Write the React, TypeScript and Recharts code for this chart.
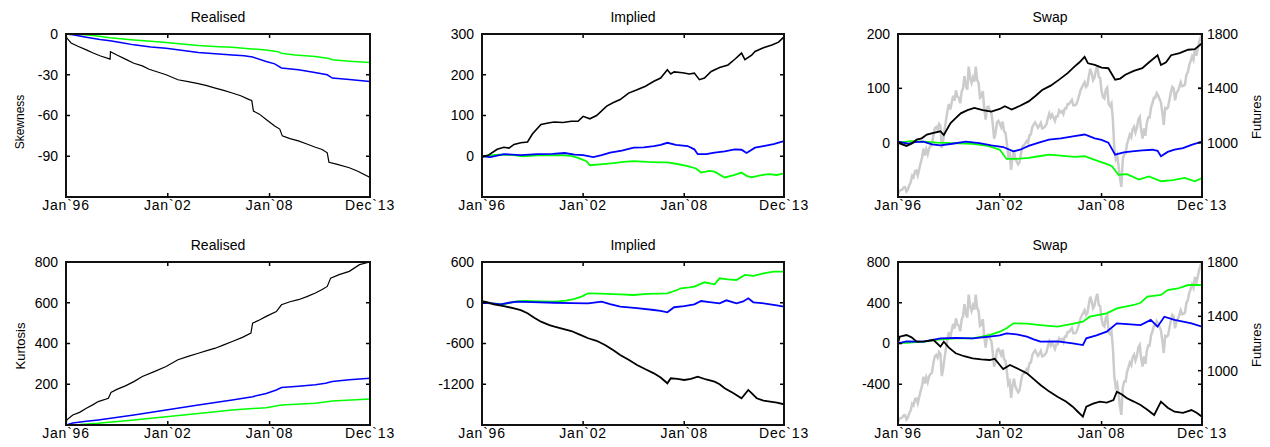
import React from 'react';
import { LineChart, Line, XAxis, YAxis, ReferenceLine } from 'recharts';

type P = [number, number];

const X_START = 1996;
const X_END = 2013.92;
const xTicks = [1996, 2002, 2008, 2013.92];
const xTickLabels = ['Jan`96', 'Jan`02', 'Jan`08', 'Dec`13'];

const futDomain: [number, number] = [600, 1800];
const futTicks = [1000, 1400, 1800];

// ---------- Skewness: Realised ----------
const rsBlack: P[] = [[1996,0],[1996.05,-3],[1996.3,-6.6],[1996.7,-9],[1997.2,-11.7],[1997.6,-14],[1998.0,-16],[1998.6,-18.5],[1998.62,-13],[1999.0,-15.5],[1999.5,-18.5],[2000,-21.5],[2000.5,-23.5],[2000.9,-26],[2001.4,-28],[2001.9,-30],[2002.6,-33.7],[2003.2,-35],[2003.8,-36.5],[2004.3,-38],[2004.8,-39.8],[2005.3,-41.5],[2005.8,-43.4],[2006.3,-45.5],[2006.8,-48.3],[2006.95,-49],[2007.05,-56.8],[2007.4,-59],[2007.8,-62.9],[2008.3,-67.8],[2008.6,-70],[2008.75,-75],[2009.2,-77],[2009.7,-78.7],[2010.2,-81],[2010.7,-83.4],[2011.1,-85],[2011.4,-87.5],[2011.5,-94.4],[2012.0,-96],[2012.7,-98.5],[2013.2,-101],[2013.92,-105.6]];
const rsBlue: P[] = [[1996,0],[1996.4,-0.5],[1996.8,-1.5],[1997.2,-2.4],[1998,-4],[1998.6,-4.9],[1999.3,-6.5],[2000,-8],[2001,-9.5],[2001.9,-10.5],[2002.8,-12],[2003.8,-13.6],[2004.8,-14.5],[2005.8,-15.4],[2006.5,-16],[2007,-17],[2007.8,-20.2],[2008.3,-22],[2008.7,-25],[2009.7,-26.3],[2010.5,-28],[2011.4,-30],[2011.7,-32.4],[2012.7,-33.5],[2013.92,-35]];
const rsGreen: P[] = [[1996,0],[1996.5,0],[1997.5,-1],[1998.6,-2.7],[2000,-4.4],[2001,-5.4],[2001.9,-6.3],[2003,-7.5],[2003.8,-8.5],[2005,-9.3],[2005.8,-9.8],[2006.8,-10.8],[2007.8,-11.7],[2008.5,-13],[2008.7,-14.1],[2009.5,-15.5],[2010.7,-16.6],[2011.5,-18],[2011.7,-19],[2012.7,-20],[2013.92,-21]];

// ---------- Skewness: Implied ----------
const isBlack: P[] = [[1996,-2],[1996.4,3],[1996.9,17],[1997.3,22],[1997.6,20],[1997.9,29],[1998.3,33],[1998.7,35],[1999.0,55],[1999.5,78],[2000.0,82],[2000.3,84],[2000.8,83],[2001.3,86],[2001.7,86],[2002.0,98],[2002.4,92],[2002.8,100],[2003.4,123],[2003.8,132],[2004.2,139],[2004.7,155],[2005.2,163],[2005.7,172],[2006.2,184],[2006.6,192],[2007.0,212],[2007.2,202],[2007.4,207],[2007.9,205],[2008.3,202],[2008.6,204],[2008.9,188],[2009.2,192],[2009.6,208],[2010.1,218],[2010.6,224],[2011.0,238],[2011.4,253],[2011.6,237],[2012.0,248],[2012.2,257],[2012.7,266],[2013.2,273],[2013.6,280],[2013.92,293]];
const isBlue: P[] = [[1996,0],[1996.5,-2],[1997.3,5],[1998.3,3],[1999.3,5],[2000.2,6],[2000.9,8],[2001.5,4],[2002.0,3],[2002.6,-2],[2003.1,3],[2003.6,9],[2004.3,14],[2005.0,21],[2005.6,22],[2006.2,25],[2006.6,28],[2007.0,33],[2007.5,28],[2008.2,25],[2008.6,17],[2008.8,5],[2009.3,5],[2009.8,9],[2010.4,12],[2011.0,17],[2011.4,16],[2011.7,8],[2012.2,21],[2012.7,25],[2013.3,30],[2013.92,37]];
const isGreen: P[] = [[1996,0],[1997.0,4],[1997.9,3],[1998.4,0],[1999.3,2],[2000.7,3],[2001.3,1],[2001.7,-4],[2002.2,-12],[2002.4,-22],[2003.0,-20],[2003.8,-17],[2004.4,-14],[2005.0,-12],[2005.8,-14],[2006.5,-15],[2007.0,-15],[2007.6,-19],[2008.2,-24],[2008.7,-30],[2009.0,-40],[2009.5,-36],[2009.8,-38],[2010.4,-52],[2010.9,-47],[2011.4,-40],[2011.7,-48],[2012.0,-52],[2012.5,-47],[2013.0,-44],[2013.5,-46],[2013.92,-42]];

// ---------- Skewness: Swap ----------
const ssBlack: P[] = [[1996,0],[1996.5,-6],[1996.8,-2],[1997.1,5.5],[1997.4,8],[1997.7,15],[1998.1,18],[1998.5,21],[1998.7,14],[1999.1,36],[1999.4,45],[1999.7,54],[2000.1,60],[2000.5,64],[2001.0,60],[2001.5,57],[2002.0,62],[2002.3,67],[2002.7,61],[2003.2,68],[2003.7,76],[2004.1,86],[2004.5,97],[2005.0,105],[2005.5,116],[2006.0,128],[2006.4,140],[2006.7,148],[2007.0,158],[2007.2,146],[2007.6,143],[2008.0,138],[2008.4,137],[2008.8,116],[2009.1,118],[2009.4,125],[2009.9,132],[2010.4,137],[2010.8,148],[2011.3,161],[2011.5,143],[2011.8,148],[2012.1,161],[2012.6,165],[2013.1,171],[2013.5,172],[2013.92,183]];
const ssBlue: P[] = [[1996,2],[1996.6,-2],[1997.0,1],[1997.5,2],[1998.0,-3],[1998.5,-5],[1999.2,-2],[2000.0,2],[2000.8,-1],[2001.5,-5],[2002.2,-8],[2002.8,-16],[2003.2,-13],[2003.7,-6],[2004.3,0],[2004.9,5.5],[2005.6,8],[2006.4,12],[2007.0,15],[2007.6,8],[2008.0,5],[2008.4,0],[2008.8,-22],[2009.3,-18],[2009.8,-16],[2010.4,-14],[2011.0,-13],[2011.3,-15],[2011.5,-25],[2011.9,-17],[2012.3,-13],[2012.8,-10],[2013.3,-4],[2013.92,2]];
const ssGreen: P[] = [[1996,0],[1996.8,3],[1997.5,2],[1998.3,0],[1999.2,-1],[2000.4,-2],[2001.3,-6],[2002.0,-13],[2002.4,-30],[2003.0,-30],[2003.7,-28],[2004.3,-25],[2004.9,-22],[2005.6,-24],[2006.4,-26],[2007.0,-25],[2007.8,-34],[2008.2,-38],[2008.6,-43],[2009.0,-59],[2009.5,-58],[2010.2,-68],[2010.8,-62],[2011.5,-71],[2012.2,-69],[2012.9,-65],[2013.5,-71],[2013.92,-65]];

// ---------- Kurtosis: Realised ----------
const rkBlack: P[] = [[1996,0],[1996.05,25],[1996.4,49],[1996.8,62],[1997.2,82],[1997.6,100],[1997.9,115],[1998.5,131],[1998.65,160],[1999.0,175],[1999.5,192],[2000.0,213],[2000.5,238],[2001.2,262],[2001.9,287],[2002.6,320],[2003.2,337],[2003.8,352],[2004.3,365],[2004.8,377],[2005.3,393],[2005.8,410],[2006.4,430],[2006.9,451],[2007.0,500],[2007.4,515],[2007.8,533],[2008.4,557],[2008.7,590],[2009.2,605],[2009.7,615],[2010.2,630],[2010.7,648],[2011.1,665],[2011.4,680],[2011.6,721],[2012.1,738],[2012.7,754],[2013.3,787],[2013.92,800]];
const rkBlue: P[] = [[1996,0],[1996.4,10],[1997.2,18],[1997.9,25],[2000,49],[2001.9,74],[2003.8,98],[2005.8,123],[2007,139],[2007.8,155],[2008.4,172],[2008.7,184],[2009.7,190],[2010.7,197],[2011.3,205],[2011.7,213],[2012.7,222],[2013.92,229]];
const rkGreen: P[] = [[1996,0],[1996.8,2],[1997.9,8],[2000,25],[2001.9,41],[2003.8,57],[2005.8,74],[2007.8,85],[2008.7,98],[2010.7,107],[2011.7,118],[2013.92,128]];

// ---------- Kurtosis: Implied ----------
const ikBlack: P[] = [[1996,25],[1996.3,10],[1996.7,-23],[1997.3,-50],[1997.9,-82],[1998.3,-110],[1998.7,-155],[1999.1,-220],[1999.5,-279],[2000.0,-330],[2000.3,-352],[2000.8,-385],[2001.3,-416],[2001.8,-470],[2002.3,-523],[2002.8,-560],[2003.3,-622],[2003.8,-700],[2004.2,-769],[2004.7,-840],[2005.2,-916],[2005.7,-980],[2006.2,-1039],[2006.6,-1100],[2007.0,-1186],[2007.2,-1112],[2007.6,-1120],[2008.0,-1137],[2008.4,-1120],[2008.8,-1088],[2009.3,-1130],[2009.8,-1162],[2010.1,-1200],[2010.4,-1259],[2010.9,-1330],[2011.4,-1406],[2011.8,-1284],[2012.0,-1330],[2012.3,-1406],[2012.7,-1440],[2013.1,-1456],[2013.5,-1470],[2013.92,-1495]];
const ikBlue: P[] = [[1996,0],[1996.6,-10],[1997.1,-23],[1997.6,0],[1998.1,16],[1999.0,8],[2000.3,0],[2001.3,-5],[2002.3,-8],[2003.1,16],[2003.6,-20],[2004.2,-58],[2005.2,-80],[2006.2,-107],[2006.6,-120],[2007.0,-141],[2007.4,-66],[2008.0,-50],[2008.6,-23],[2009.0,26],[2009.5,10],[2010.1,-8],[2010.5,36],[2011.1,-8],[2011.5,20],[2011.8,66],[2012.1,7],[2012.6,-5],[2013.1,-23],[2013.5,-40],[2013.92,-58]];
const ikGreen: P[] = [[1996,0],[1996.6,-10],[1997.3,-23],[1997.9,15],[1998.5,26],[1999.5,20],[2000.3,16],[2001.0,30],[2001.5,56],[2001.9,90],[2002.3,139],[2003.0,135],[2004.2,122],[2005.0,114],[2005.8,130],[2006.5,135],[2007.0,139],[2007.5,180],[2007.8,213],[2008.3,225],[2008.6,237],[2009.2,301],[2009.8,272],[2010.1,360],[2010.6,345],[2011.1,335],[2011.6,409],[2012.1,397],[2012.7,433],[2013.3,458],[2013.92,458]];

// ---------- Kurtosis: Swap ----------
const skBlack: P[] = [[1996,2],[1996.1,67],[1996.5,83],[1996.8,60],[1997.1,18],[1997.6,20],[1998.1,34],[1998.5,-31],[1998.7,18],[1999.0,-40],[1999.4,-96],[1999.9,-125],[2000.4,-145],[2000.9,-155],[2001.4,-162],[2001.7,-150],[2002.0,-211],[2002.2,-250],[2002.6,-211],[2003.1,-250],[2003.6,-293],[2004.0,-350],[2004.4,-407],[2004.9,-470],[2005.4,-522],[2005.9,-570],[2006.3,-620],[2006.6,-670],[2006.9,-718],[2007.1,-620],[2007.5,-590],[2007.9,-571],[2008.3,-580],[2008.7,-555],[2008.9,-473],[2009.2,-500],[2009.5,-538],[2009.9,-570],[2010.3,-604],[2010.7,-650],[2011.1,-702],[2011.5,-571],[2011.9,-630],[2012.3,-669],[2012.8,-680],[2013.3,-653],[2013.6,-680],[2013.92,-718]];
const skBlue: P[] = [[1996,2],[1996.5,20],[1997.5,18],[1998.5,51],[1999.4,55],[2000.4,51],[2001.4,67],[2002.0,80],[2002.4,100],[2003.0,90],[2003.6,67],[2004.0,40],[2004.4,18],[2005.4,20],[2006.3,2],[2006.9,-15],[2007.1,51],[2007.7,80],[2008.3,116],[2008.9,198],[2009.5,190],[2010.3,181],[2010.9,231],[2011.3,165],[2011.7,263],[2012.3,231],[2012.8,215],[2013.3,198],[2013.92,165]];
const skGreen: P[] = [[1996,2],[1997.5,18],[1998.5,40],[1999.4,51],[2000.4,51],[2001.4,83],[2002.0,116],[2002.4,149],[2002.8,198],[2003.6,195],[2004.4,181],[2005.4,165],[2006.2,190],[2006.9,214],[2007.3,263],[2008.3,296],[2008.9,345],[2009.9,378],[2010.3,400],[2010.7,460],[2011.5,476],[2011.9,525],[2012.5,540],[2013.1,574],[2013.92,574]];

// ---------- Futures (monthly, Jan 1996 .. Dec 2013) ----------
const futuresMonthly: number[] = [
  620, 645, 650, 655, 670, 672, 640, 655, 688, 708, 757, 745,
  790, 795, 760, 805, 850, 888, 955, 905, 950, 915, 958, 975,
  985, 1052, 1105, 1115, 1095, 1138, 1125, 960, 1020, 1100, 1168, 1235,
  1285, 1245, 1295, 1345, 1310, 1385, 1340, 1330, 1290, 1375, 1400, 1490,
  1420, 1390, 1560, 1480, 1440, 1480, 1450, 1560, 1460, 1440, 1330, 1340,
  1380, 1250, 1170, 1260, 1265, 1235, 1220, 1140, 1030, 1070, 1150, 1160,
  1140, 1115, 1155, 1085, 1075, 995, 900, 920, 800, 890, 940, 885,
  860, 840, 855, 920, 970, 980, 995, 1012, 1000, 1055, 1060, 1115,
  1135, 1150, 1130, 1110, 1125, 1145, 1105, 1108, 1120, 1135, 1180, 1215,
  1185, 1208, 1185, 1160, 1195, 1195, 1238, 1224, 1232, 1210, 1252, 1252,
  1285, 1285, 1300, 1315, 1275, 1275, 1280, 1308, 1340, 1382, 1405, 1425,
  1445, 1410, 1425, 1490, 1545, 1510, 1460, 1480, 1535, 1565, 1485, 1475,
  1380, 1335, 1325, 1390, 1405, 1285, 1270, 1290, 1170, 960, 880, 905,
  830, 740, 675, 875, 920, 920, 990, 1025, 1060, 1040, 1100, 1118,
  1075, 1108, 1172, 1190, 1090, 1030, 1105, 1050, 1145, 1185, 1185, 1260,
  1290, 1330, 1330, 1365, 1348, 1322, 1295, 1220, 1130, 1255, 1250, 1260,
  1315, 1368, 1410, 1400, 1312, 1365, 1380, 1410, 1445, 1415, 1418, 1428,
  1500, 1518, 1572, 1600, 1635, 1610, 1690, 1640, 1690, 1740, 1775, 1795,
];

const toPts = (a: P[]) => a.map(([t, v]) => ({ t, v }));
const futuresPts = futuresMonthly.map((v, i) => ({ t: X_START + i / 12, v }));

const BLACK = '#000000';
const BLUE = '#0000ff';
const GREEN = '#00ff00';
const GRAY = '#cccccc';

const FONT = "'Liberation Sans', Arial, Helvetica, sans-serif";
const PLOT_H = 163;
const AXIS_W = 70;
const TOP_PAD = 10;
const BOTTOM_H = 30;
const TICK_LEN = 4;

const fmtX = (v: number) => {
  const i = xTicks.indexOf(v);
  return i >= 0 ? xTickLabels[i] : '';
};

type S = { data: P[]; color: string; w: number };

type PanelProps = {
  x: number; y: number; w: number;
  title: string;
  yDomain: [number, number];
  yTicks: number[];
  series: S[];
  futures?: boolean;
};

const tickLine = { stroke: '#000', strokeWidth: 1.5 };
const tickStyle = { fill: '#000', fontSize: 14, fontFamily: FONT };
const xTickStyle = { fill: '#000', fontSize: 14, fontFamily: FONT, letterSpacing: 0.8 };

function Panel({ x, y, w, title, yDomain, yTicks, series, futures }: PanelProps) {
  const rightW = futures ? 60 : 0;
  const rightMargin = futures ? 0 : 40;
  const chartW = AXIS_W + w + rightW + rightMargin;
  const chartH = TOP_PAD + PLOT_H + BOTTOM_H;
  const [yMin, yMax] = yDomain;
  // length of the inward tick marks on the top and right edges, in data units
  const dy = ((yMax - yMin) * TICK_LEN) / PLOT_H;
  const dx = ((X_END - X_START) * TICK_LEN) / w;
  return (
    <>
      <div style={{ position: 'absolute', left: x + w / 2, top: y - 17, transform: 'translate(-50%,-50%)', fontSize: 14, fontFamily: FONT, whiteSpace: 'nowrap', color: '#000' }}>
        {title}
      </div>
      <div style={{ position: 'absolute', left: x - AXIS_W, top: y - TOP_PAD }}>
        <LineChart width={chartW} height={chartH} margin={{ top: TOP_PAD, right: rightMargin, bottom: 0, left: 0 }}>
          <XAxis xAxisId="b" dataKey="t" type="number" domain={[X_START, X_END]} ticks={xTicks} interval={0}
            tickFormatter={fmtX} height={BOTTOM_H} tickSize={-TICK_LEN} tickMargin={7} axisLine={false}
            tickLine={tickLine} tick={xTickStyle} allowDataOverflow />
          <YAxis yAxisId="l" type="number" domain={yDomain} ticks={yTicks} interval={0} width={AXIS_W}
            tickSize={-TICK_LEN} tickMargin={12} axisLine={false} tickLine={tickLine} tick={tickStyle} allowDataOverflow />
          {futures && (
            <YAxis yAxisId="r" orientation="right" type="number" domain={futDomain}
              ticks={futTicks} interval={0} width={rightW} tickSize={-TICK_LEN} tickMargin={9}
              axisLine={false} tickLine={tickLine} tick={tickStyle} allowDataOverflow />
          )}
          {xTicks.slice(1, -1).map((t) => (
            <ReferenceLine key={'tx' + t} xAxisId="b" yAxisId="l" ifOverflow="visible" stroke="#000" strokeWidth={1.5}
              segment={[{ x: t, y: yMax }, { x: t, y: yMax - dy }]} />
          ))}
          {yTicks.filter((v) => v > yMin && v < yMax).map((v) => (
            <ReferenceLine key={'ry' + v} xAxisId="b" yAxisId="l" ifOverflow="visible" stroke="#000" strokeWidth={1.5}
              segment={[{ x: X_END, y: v }, { x: X_END - dx, y: v }]} />
          ))}
          {futures && (
            <Line xAxisId="b" yAxisId="r" data={futuresPts} dataKey="v" stroke={GRAY} strokeWidth={2.5}
              dot={false} isAnimationActive={false} type="linear" />
          )}
          {series.map((s, i) => (
            <Line key={i} xAxisId="b" yAxisId="l" data={toPts(s.data)} dataKey="v" stroke={s.color}
              strokeWidth={s.w} dot={false} isAnimationActive={false} type="linear" />
          ))}
        </LineChart>
      </div>
      {/* axes box */}
      <div style={{ position: 'absolute', left: x - 1, top: y - 1, width: w + 2, height: PLOT_H + 2, border: '2px solid #111', boxSizing: 'border-box', pointerEvents: 'none' }} />
    </>
  );
}

function VLabel({ cx, cy, text, size }: { cx: number; cy: number; text: string; size: number }) {
  return (
    <div style={{ position: 'absolute', left: cx, top: cy, transform: 'translate(-50%,-50%) rotate(-90deg)', fontSize: size, fontFamily: FONT, whiteSpace: 'nowrap', color: '#000' }}>
      {text}
    </div>
  );
}

export default function App() {
  return (
    <div style={{ position: 'absolute', left: 0, top: 0, width: 1270, height: 447, background: '#fff', overflow: 'hidden' }}>
      <Panel x={66} y={34} w={304} title="Realised" yDomain={[-120, 0]} yTicks={[-90, -60, -30, 0]}
        series={[{ data: rsGreen, color: GREEN, w: 1.5 }, { data: rsBlue, color: BLUE, w: 1.5 }, { data: rsBlack, color: BLACK, w: 1.2 }]} />
      <Panel x={482} y={34} w={302} title="Implied" yDomain={[-100, 300]} yTicks={[0, 100, 200, 300]}
        series={[{ data: isGreen, color: GREEN, w: 1.8 }, { data: isBlue, color: BLUE, w: 1.8 }, { data: isBlack, color: BLACK, w: 1.6 }]} />
      <Panel x={898} y={34} w={304} title="Swap" yDomain={[-100, 200]} yTicks={[0, 100, 200]} futures
        series={[{ data: ssGreen, color: GREEN, w: 1.8 }, { data: ssBlue, color: BLUE, w: 1.8 }, { data: ssBlack, color: BLACK, w: 1.8 }]} />
      <Panel x={66} y={262} w={304} title="Realised" yDomain={[0, 800]} yTicks={[200, 400, 600, 800]}
        series={[{ data: rkGreen, color: GREEN, w: 1.5 }, { data: rkBlue, color: BLUE, w: 1.5 }, { data: rkBlack, color: BLACK, w: 1.2 }]} />
      <Panel x={482} y={262} w={302} title="Implied" yDomain={[-1800, 600]} yTicks={[-1200, -600, 0, 600]}
        series={[{ data: ikGreen, color: GREEN, w: 1.8 }, { data: ikBlue, color: BLUE, w: 1.8 }, { data: ikBlack, color: BLACK, w: 1.8 }]} />
      <Panel x={898} y={262} w={304} title="Swap" yDomain={[-800, 800]} yTicks={[-400, 0, 400, 800]} futures
        series={[{ data: skGreen, color: GREEN, w: 1.8 }, { data: skBlue, color: BLUE, w: 1.8 }, { data: skBlack, color: BLACK, w: 1.8 }]} />
      <VLabel cx={20} cy={122} text="Skewness" size={12} />
      <VLabel cx={20} cy={346} text="Kurtosis" size={13} />
      <VLabel cx={1256} cy={117} text="Futures" size={13} />
      <VLabel cx={1256} cy={345} text="Futures" size={13} />
    </div>
  );
}
